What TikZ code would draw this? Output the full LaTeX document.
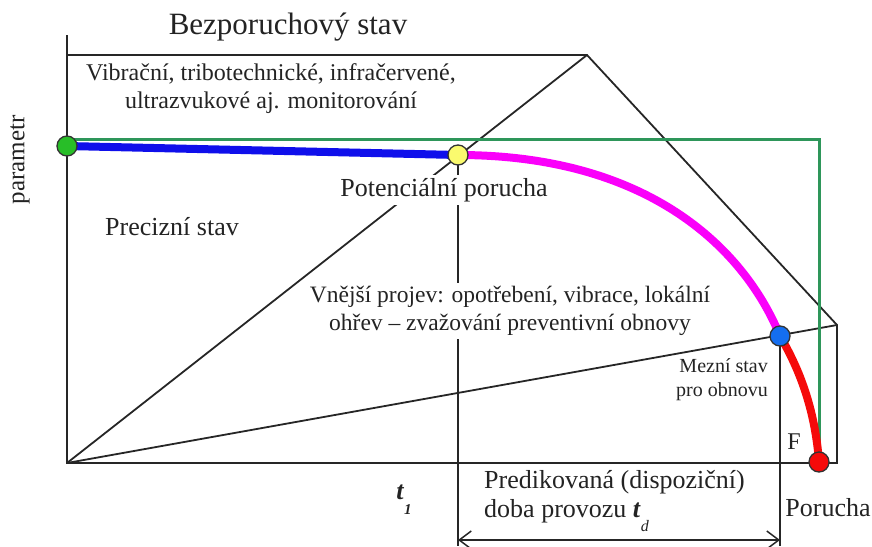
\documentclass[tikz,border=0pt]{standalone}
\usepackage{fontspec}
\setmainfont{Liberation Serif}
\usetikzlibrary{arrows.meta}
\definecolor{gline}{RGB}{46,150,90}
\definecolor{bline}{RGB}{15,15,235}
\definecolor{mline}{RGB}{250,0,250}
\definecolor{rline}{RGB}{245,10,10}
\definecolor{gdot}{RGB}{40,190,40}
\definecolor{ydot}{RGB}{250,250,110}
\definecolor{bdot}{RGB}{20,110,240}
\definecolor{txt}{RGB}{35,35,35}
\newcommand{\fsz}[2]{\fontsize{#1}{#2}\selectfont}
\begin{document}
\begin{tikzpicture}[x=1pt,y=-1pt,
  frame/.style={line width=1.8pt, black!85},
  lbl/.style={text=txt, inner sep=3pt},
  cover/.style={lbl, fill=white},
  thick curve/.style={line width=8pt, line cap=round},
  dotmark/.style={circle, draw=black!80, line width=1.3pt, minimum size=20pt, inner sep=0pt}]
\useasboundingbox (0,0) rectangle (872,546);
% coordinates
\coordinate (axtop) at (67,35);
\coordinate (TL) at (67,55);
\coordinate (A) at (587,55);
\coordinate (C) at (837,325);
\coordinate (BR) at (837,463);
\coordinate (O) at (67,463);
\coordinate (P0) at (67,146);
\coordinate (P1) at (458,155);
\coordinate (P2) at (780,336);
\coordinate (P3) at (819,462);
\coordinate (G0) at (67,139);
\coordinate (G1) at (819,139);
\coordinate (V1) at (458,546);
\coordinate (V2) at (780,546);
\coordinate (AL) at (458,540);
\coordinate (AR) at (780,540);
% frame lines
\draw[frame] (axtop) -- (O) -- (BR) -- (C) -- (A) -- (TL);
\draw[frame] (O) -- (A);
\draw[frame] (O) -- (C);
\draw[frame] (P1) -- (V1);
\draw[frame] (P2) -- (V2);
\draw[frame, line width=1.5pt, {Straight Barb[length=12pt,width=18pt]}-{Straight Barb[length=12pt,width=18pt]}] (AL) -- (AR);
% green line
\draw[gline, line width=3pt] (G0) -- (G1) -- (P3);
% thick curves
\draw[bline, thick curve] (P0) -- (P1);
\draw[mline, thick curve] (P1) .. controls (650,155) and (745,250) .. (P2);
\draw[rline, thick curve] (P2) .. controls (800,370) and (815,410) .. (P3);
% texts
\node[lbl, font=\fsz{31}{36}] (title) at (288,27) {Bezporuchový stav};
\node[lbl, align=center, font=\fsz{24}{28}] (monit) at (271,89) {Vibrační, tribotechnické, infračervené,\\ ultrazvukové aj. monitorování};
\node[lbl, rotate=90, font=\fsz{25}{29}] (param) at (20,160) {parametr};
\node[cover, font=\fsz{26}{30}] (pot) at (444,190) {Potenciální porucha};
\node[lbl, font=\fsz{26}{30}] (prec) at (172,227) {Precizní stav};
\node[cover, align=center, font=\fsz{23.5}{28}] (vnej) at (510,311) {Vnější projev: opotřebení, vibrace, lokální\\ ohřev – zvažování preventivní obnovy};
\node[lbl, align=right, anchor=east, font=\fsz{20}{24}] (mez) at (771,380) {Mezní stav\\ pro obnovu};
\node[lbl, font=\fsz{24}{28}] (F) at (794,442) {F};
\node[lbl, font=\fsz{26}{30}] (por) at (828,508) {Porucha};
\node[lbl, font=\fsz{26}{30}] (t1) at (404,492) {\textbf{\textit{t}}\smash{\raisebox{-15pt}{\fsz{15}{17}\textbf{\textit{1}}}}};
\node[lbl, align=left, anchor=west, font=\fsz{26}{29}] (pred) at (481,497) {Predikovaná (dispoziční)\\ doba provozu \textbf{\textit{t}}\smash{\raisebox{-14pt}{\fsz{16}{18}\textit{d}}}};
% dots
\node[dotmark, fill=gdot] (dg) at (P0) {};
\node[dotmark, fill=ydot] (dy) at (P1) {};
\node[dotmark, fill=bdot] (db) at (P2) {};
\node[dotmark, fill=rline] (dr) at (P3) {};
\end{tikzpicture}
\end{document}
